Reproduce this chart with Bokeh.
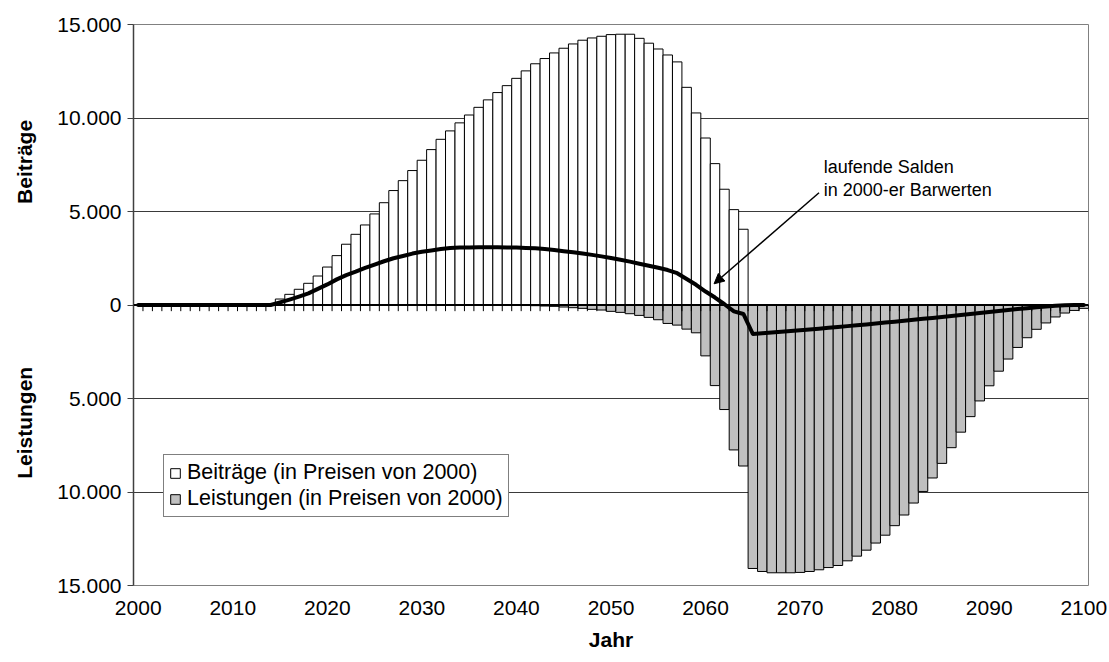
from bokeh.plotting import figure
from bokeh.layouts import row
from bokeh.models import (Range1d, FixedTicker, CustomJSTickFormatter, Span, Label,
                          Arrow, NormalHead, Legend, LegendItem, ColumnDataSource)
from bokeh.core.properties import value
from bokeh.embed import file_html
from bokeh.resources import INLINE

# ---------------- data ----------------
years = list(range(2000, 2101))

beitraege = [
    0, 0, 0, 0, 0, 0, 0, 0, 0, 0,                                   # 2000-2009
    0, 0, 0, 0, 0, 320, 570, 840, 1160, 1550,                       # 2010-2019
    2030, 2640, 3250, 3780, 4280, 4870, 5470, 6120, 6650, 7190,     # 2020-2029
    7740, 8310, 8860, 9310, 9740, 10160, 10570, 10970, 11360, 11730,  # 2030-2039
    12120, 12520, 12900, 13180, 13480, 13730, 13960, 14160, 14280, 14370,  # 2040-2049
    14460, 14480, 14480, 14260, 14000, 13690, 13370, 13000, 11640, 10270,  # 2050-2059
    8930, 7560, 6190, 5100, 4050, 0, 0, 0, 0, 0,                    # 2060-2069
    0, 0, 0, 0, 0, 0, 0, 0, 0, 0,                                   # 2070-2079
    0, 0, 0, 0, 0, 0, 0, 0, 0, 0,                                   # 2080-2089
    0, 0, 0, 0, 0, 0, 0, 0, 0, 0,                                   # 2090-2099
    0,                                                              # 2100
]

leistungen = [
    0, 0, 0, 0, 0, 0, 0, 0, 0, 0,                                   # 2000-2009
    0, 0, 0, 0, 0, 0, 0, 0, 0, 0,                                   # 2010-2019
    0, 0, 0, 0, 0, 0, 0, 0, 0, 0,                                   # 2020-2029
    0, 0, 0, 0, 0, 0, 5, 8, 12, 17,                                 # 2030-2039
    22, 28, 36, 54, 72, 108, 143, 179, 233, 269,                    # 2040-2049
    340, 394, 466, 556, 663, 788, 986, 1075, 1290, 1487,            # 2050-2059
    2720, 4310, 5590, 7750, 8610, 14090, 14250, 14320, 14320, 14320,  # 2060-2069
    14300, 14250, 14160, 14040, 13930, 13680, 13430, 13110, 12730, 12310,  # 2070-2079
    11800, 11230, 10590, 9970, 9250, 8470, 7630, 6800, 5970, 5130,  # 2080-2089
    4320, 3540, 2890, 2270, 1750, 1300, 960, 640, 430, 290,         # 2090-2099
    180,                                                            # 2100
]

salden = [
    0, 0, 0, 0, 0, 0, 0, 0, 0, 0,                                   # 2000-2009
    0, 0, 0, 0, 0, 140, 290, 450, 620, 860,                         # 2010-2019
    1100, 1370, 1600, 1780, 1980, 2160, 2340, 2500, 2620, 2750,     # 2020-2029
    2850, 2920, 2990, 3050, 3070, 3080, 3090, 3090, 3090, 3080,     # 2030-2039
    3070, 3050, 3030, 2990, 2940, 2880, 2820, 2750, 2680, 2600,     # 2040-2049
    2510, 2420, 2320, 2210, 2100, 1990, 1870, 1700, 1390, 1080,     # 2050-2059
    720, 400, 40, -340, -480, -1550, -1510, -1470, -1430, -1390,    # 2060-2069
    -1350, -1310, -1265, -1220, -1175, -1130, -1085, -1040, -990, -940,  # 2070-2079
    -890, -840, -790, -740, -690, -640, -590, -535, -480, -425,     # 2080-2089
    -370, -320, -270, -220, -170, -120, -75, -40, -15, -5,          # 2090-2099
    0,                                                              # 2100
]

x_tick_years = [2000, 2010, 2020, 2030, 2040, 2050, 2060, 2070, 2080, 2090, 2100]
y_ticks = [-15000, -10000, -5000, 0, 5000, 10000, 15000]

label_beitraege = "Beiträge (in Preisen von 2000)"
label_leistungen = "Leistungen (in Preisen von 2000)"
annotation_lines = ["laufende Salden", "in 2000-er Barwerten"]
y_titles = ["Beiträge", "Leistungen"]
y_title_pos = [7650, -6300]

FONT = "Liberation Sans"
TOP, BOTTOM, FRAME_H = 24, 75, 561

# ---------------- main figure ----------------
p = figure(frame_width=955, frame_height=FRAME_H,
           min_border_left=88, min_border_right=19,
           min_border_top=TOP, min_border_bottom=BOTTOM,
           x_range=Range1d(years[0] - 0.5, years[-1] + 0.5),
           y_range=Range1d(y_ticks[0], y_ticks[-1]),
           output_backend="svg", toolbar_location=None,
           background_fill_color="white", border_fill_color="white")

p.outline_line_color = "#808080"
p.outline_line_width = 1

p.xgrid.grid_line_color = None
p.ygrid.ticker = FixedTicker(ticks=y_ticks)
p.ygrid.grid_line_color = "#3a3a3a"
p.ygrid.grid_line_width = 1

p.xaxis.ticker = FixedTicker(ticks=x_tick_years)
p.xaxis.axis_line_color = None
p.xaxis.major_tick_line_color = None
p.xaxis.minor_tick_line_color = None
p.xaxis.major_label_text_font = FONT
p.xaxis.major_label_text_font_size = "21px"
p.xaxis.major_label_text_color = "black"
p.xaxis.major_label_standoff = 9
p.xaxis.axis_label = "Jahr"
p.xaxis.axis_label_text_font = FONT
p.xaxis.axis_label_text_font_style = "bold"
p.xaxis.axis_label_text_font_size = "21px"
p.xaxis.axis_label_text_color = "black"
p.xaxis.axis_label_standoff = 10

p.yaxis.ticker = FixedTicker(ticks=y_ticks)
p.yaxis.formatter = CustomJSTickFormatter(code="""
    const v = Math.abs(Math.round(tick));
    if (v === 0) { return '0'; }
    const th = Math.floor(v / 1000);
    const rest = String(v % 1000).padStart(3, '0');
    return th + '.' + rest;
""")
p.yaxis.axis_line_color = "#404040"
p.yaxis.axis_line_width = 1.5
p.yaxis.major_tick_line_color = "#404040"
p.yaxis.major_tick_out = 6
p.yaxis.major_tick_in = 0
p.yaxis.minor_tick_line_color = None
p.yaxis.major_label_text_font = FONT
p.yaxis.major_label_text_font_size = "21px"
p.yaxis.major_label_text_color = "black"
p.yaxis.major_label_standoff = 6

src = ColumnDataSource(dict(
    year=years,
    beitraege=beitraege,
    leist_neg=[-v for v in leistungen],
    salden=salden,
    zero=[0] * len(years),
))

r_b = p.vbar(x="year", top="beitraege", bottom="zero", width=1, source=src,
             fill_color="white", line_color="black", line_width=1)
r_l = p.vbar(x="year", top="zero", bottom="leist_neg", width=1, source=src,
             fill_color="#c0c0c0", line_color="black", line_width=1)

# category tick marks hanging below the zero line
bounds = [y + 0.5 for y in years]
p.segment(x0=bounds, y0=[0] * len(bounds), x1=bounds, y1=[-330] * len(bounds),
          line_color="black", line_width=1)

p.add_layout(Span(location=0, dimension="width", line_color="black", line_width=2))

p.line(x="year", y="salden", source=src, line_color="black", line_width=4,
       line_join="round", line_cap="round")

p.add_layout(Label(x=2072.5, y=7356, text=annotation_lines[0], text_font=FONT,
                   text_font_size="18px", text_color="black",
                   text_baseline="alphabetic", text_align="left"))
p.add_layout(Label(x=2072.5, y=6126, text=annotation_lines[1], text_font=FONT,
                   text_font_size="18px", text_color="black",
                   text_baseline="alphabetic", text_align="left"))
p.add_layout(Arrow(end=NormalHead(size=10, fill_color="black", line_color="black"),
                   x_start=2072.0, y_start=6000, x_end=2060.9, y_end=1134,
                   line_color="black", line_width=1.5))

legend = Legend(items=[LegendItem(label=label_beitraege, renderers=[r_b]),
                       LegendItem(label=label_leistungen, renderers=[r_l])],
                location=(30, 68), margin=0, padding=5, spacing=1,
                glyph_width=12, glyph_height=12, label_standoff=6, label_height=25,
                label_text_font=FONT, label_text_font_size="21.5px",
                label_text_color="black",
                border_line_color="black", border_line_width=1,
                background_fill_color="white", background_fill_alpha=1)
p.add_layout(legend)

# ---------------- narrow strip carrying the two y-axis titles ----------------
lf = figure(frame_width=45, frame_height=FRAME_H,
            min_border_left=0, min_border_right=0,
            min_border_top=TOP, min_border_bottom=BOTTOM,
            x_range=Range1d(0, 45), y_range=Range1d(y_ticks[0], y_ticks[-1]),
            output_backend="svg", toolbar_location=None,
            background_fill_color="white", border_fill_color="white")
lf.axis.visible = False
lf.grid.visible = False
lf.outline_line_color = None
lf.text(x=[24, 24], y=y_title_pos, text=y_titles, angle=1.5707963267948966,
        text_align="center", text_baseline="middle",
        text_font=value(FONT), text_font_size="21px", text_font_style="bold",
        text_color="black")

layout = row(lf, p, spacing=0)

open("out.html", "w").write(file_html(layout, INLINE))
